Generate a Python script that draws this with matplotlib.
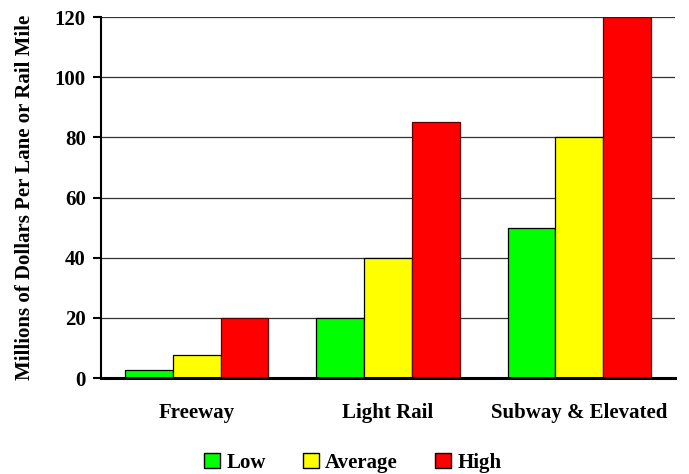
import numpy as np
import matplotlib
matplotlib.use("Agg")
import matplotlib.pyplot as plt
from matplotlib.patches import Patch

# values
categories = ["Freeway", "Light Rail", "Subway & Elevated"]
series_names = ["Low", "Average", "High"]
low = [2.5, 20, 50]
average = [7.5, 40, 80]
high = [20, 85, 120]
colors = ["#00ff00", "#ffff00", "#ff0000"]
edges = ["#000000", "#000000", "#600000"]

plt.rcParams["font.family"] = ["Liberation Serif", "DejaVu Serif"]
plt.rcParams["font.weight"] = "bold"
FS = 15

fig = plt.figure(figsize=(6.89, 4.74), dpi=100)
ax = fig.add_axes([0.1466, 0.2025, 0.8331, 0.7616])

x = np.arange(len(categories))
w = 0.25
for i, (vals, c, ec) in enumerate(zip([low, average, high], colors, edges)):
    ax.bar(x + (i - 1) * w, vals, width=w, color=c, edgecolor=ec,
           linewidth=0.9, zorder=3)

ax.set_xlim(-0.5, 2.5)
ax.set_ylim(0, 120)
ax.set_yticks(range(0, 121, 20))
ax.set_xticks(x)
ax.set_xticklabels(categories, fontsize=FS, fontweight="bold")
ax.tick_params(axis="x", length=0, pad=18)
ax.tick_params(axis="y", length=6, width=1.5, direction="out", pad=5,
               labelsize=FS)
for lab in ax.get_yticklabels():
    lab.set_fontweight("bold")

ax.grid(axis="y", color="#333333", linewidth=0.9, zorder=0)
for s in ["top", "right"]:
    ax.spines[s].set_visible(False)
ax.spines["left"].set_linewidth(1.5)
ax.spines["bottom"].set_linewidth(2.2)
ax.spines["bottom"].set_zorder(4)

ax.set_ylabel("Millions of Dollars Per Lane or Rail Mile", fontsize=FS,
              fontweight="bold", labelpad=14)

handles = [Patch(facecolor=c, edgecolor="black", linewidth=1.0)
           for c in colors]
fig.legend(handles, series_names, loc="lower center",
           bbox_to_anchor=(0.512, -0.037), ncol=3, frameon=False,
           prop={"size": FS, "weight": "bold"}, handlelength=0.75,
           handleheight=0.75, handletextpad=0.3, columnspacing=1.8)

plt.savefig("out.png", dpi=100)
